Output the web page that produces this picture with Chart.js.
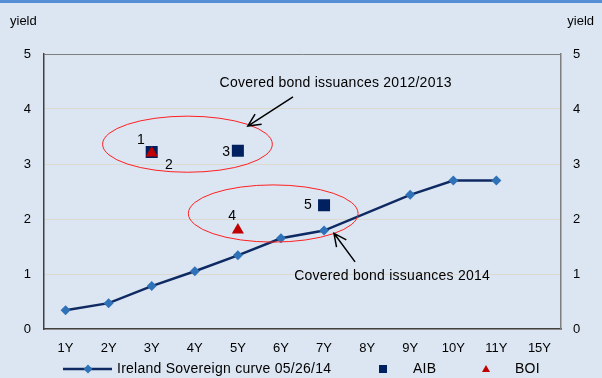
<!DOCTYPE html>
<html>
<head>
<meta charset="utf-8">
<script src="https://cdn.jsdelivr.net/npm/chart.js@4.4.1/dist/chart.umd.min.js"></script>
<style>
  html, body { margin: 0; padding: 0; background: #dce6f2; }
  canvas { display: block; }
</style>
</head>
<body>
<canvas id="myCanvas" width="602" height="378"></canvas>
<script>
// maturities on the x axis
let maturities = ["1Y", "2Y", "3Y", "4Y", "5Y", "6Y", "7Y", "8Y", "9Y", "10Y", "11Y", "15Y"];
// Ireland sovereign curve 05/26/14 (no point at 8Y and 15Y)
let sovereign = [0.34, 0.47, 0.78, 1.05, 1.34, 1.65, 1.79, null, 2.44, 2.70, 2.70, null];
// covered bond issuances
let aib = [null, null, 3.22, null, 3.24, null, 2.25, null, null, null, null, null];
let boi = [null, null, 3.20, null, 1.80, null, null, null, null, null, null, null];
let yTicks = [0, 1, 2, 3, 4, 5];

let font = "Liberation Sans, Arial, sans-serif";
let navy = "#0f2a63";
let diamondBlue = "#2f72b8";
let aibColor = "#002060";
let boiColor = "#c00000";

// ellipses, arrows and labels, placed in data units (category index, yield)
let ellipses = [
  { x: 2.83, y: 3.36, rx: 1.97, ry: 0.51 },
  { x: 4.82, y: 2.10, rx: 1.97, ry: 0.52 },
];
let arrows = [
  { from: [5.28, 4.22], to: [4.23, 3.69] },
  { from: [6.72, 1.22], to: [6.23, 1.74] },
];
let notes = [
  { text: "Covered bond issuances 2012/2013", x: 6.27, y: 4.47 },
  { text: "Covered bond issuances 2014", x: 7.58, y: 0.96 },
  { text: "1", x: 1.75, y: 3.44 },
  { text: "2", x: 2.4, y: 2.98 },
  { text: "3", x: 3.73, y: 3.22 },
  { text: "4", x: 3.87, y: 2.06 },
  { text: "5", x: 5.63, y: 2.25 },
];

let decor = {
  id: "decor",
  beforeDraw(chart) {
    let ctx = chart.ctx;
    ctx.save();
    ctx.fillStyle = "#dce6f2";
    ctx.fillRect(0, 0, chart.width, chart.height);
    ctx.fillStyle = "#558ed5";
    ctx.fillRect(0, 0, chart.width, 3);
    ctx.restore();
  },
  afterDatasetsDraw(chart) {
    let ctx = chart.ctx;
    let xs = chart.scales.x;
    let ys = chart.scales.y;
    let px = (v) => xs.getPixelForValue(v);
    let py = (v) => ys.getPixelForValue(v);
    let a = chart.chartArea;
    ctx.save();
    // top edge of the plot box
    ctx.strokeStyle = "#7f7f7f";
    ctx.lineWidth = 1;
    ctx.beginPath();
    ctx.moveTo(a.left, a.top + 0.5);
    ctx.lineTo(a.right, a.top + 0.5);
    ctx.stroke();

    ctx.strokeStyle = "#ff2020";
    ctx.lineWidth = 1;
    ellipses.forEach((e) => {
      let cx = px(e.x);
      let cy = py(e.y);
      let rx = px(e.x + e.rx) - cx;
      let ry = cy - py(e.y + e.ry);
      ctx.beginPath();
      ctx.ellipse(cx, cy, rx, ry, 0, 0, Math.PI * 2);
      ctx.stroke();
    });

    ctx.strokeStyle = "#000";
    ctx.lineWidth = 1.5;
    arrows.forEach((ar) => {
      let x1 = px(ar.from[0]), y1 = py(ar.from[1]);
      let x2 = px(ar.to[0]), y2 = py(ar.to[1]);
      let ang = Math.atan2(y2 - y1, x2 - x1);
      let head = 14;
      ctx.beginPath();
      ctx.moveTo(x1, y1);
      ctx.lineTo(x2, y2);
      ctx.moveTo(x2 - head * Math.cos(ang - 0.45), y2 - head * Math.sin(ang - 0.45));
      ctx.lineTo(x2, y2);
      ctx.lineTo(x2 - head * Math.cos(ang + 0.45), y2 - head * Math.sin(ang + 0.45));
      ctx.stroke();
    });

    ctx.fillStyle = "#000";
    ctx.font = "14px " + font;
    ctx.letterSpacing = "0.25px";
    ctx.textAlign = "center";
    ctx.textBaseline = "middle";
    notes.forEach((n) => {
      ctx.fillText(n.text, px(n.x), py(n.y));
    });
    ctx.restore();
  },
  afterDraw(chart) {
    let ctx = chart.ctx;
    ctx.save();
    ctx.font = "13px " + font;
    ctx.textBaseline = "middle";
    ctx.fillStyle = "#000";
    // y axis titles
    ctx.textAlign = "left";
    ctx.fillText("yield", 10, 21);
    ctx.textAlign = "right";
    ctx.fillText("yield", 594, 21);

    // legend
    ctx.font = "14px " + font;
    ctx.letterSpacing = "0.25px";
    let ly = 369;
    ctx.strokeStyle = navy;
    ctx.lineWidth = 2.5;
    ctx.beginPath();
    ctx.moveTo(63, ly);
    ctx.lineTo(112, ly);
    ctx.stroke();
    ctx.fillStyle = diamondBlue;
    ctx.beginPath();
    ctx.moveTo(88 - 4.5, ly);
    ctx.lineTo(88, ly - 4.5);
    ctx.lineTo(88 + 4.5, ly);
    ctx.lineTo(88, ly + 4.5);
    ctx.closePath();
    ctx.fill();
    ctx.fillStyle = "#000";
    ctx.textAlign = "left";
    ctx.fillText("Ireland Sovereign curve 05/26/14", 117, ly);

    ctx.fillStyle = aibColor;
    ctx.fillRect(379, ly - 4, 8, 8);
    ctx.fillStyle = "#000";
    ctx.fillText("AIB", 413, ly);

    ctx.fillStyle = boiColor;
    ctx.beginPath();
    ctx.moveTo(486, ly - 4);
    ctx.lineTo(490, ly + 3);
    ctx.lineTo(482, ly + 3);
    ctx.closePath();
    ctx.fill();
    ctx.fillStyle = "#000";
    ctx.fillText("BOI", 515, ly);
    ctx.restore();
  },
};

let yTickOpts = {
  color: "#000",
  font: { family: font, size: 13 },
  stepSize: 1,
  callback: (v) => (yTicks.includes(v) ? String(v) : ""),
};

let chart = new Chart(document.getElementById("myCanvas"), {
  type: "line",
  data: {
    labels: maturities,
    datasets: [
      {
        label: "AIB",
        data: aib,
        showLine: false,
        pointStyle: "rect",
        pointRadius: 8.5,
        pointBackgroundColor: aibColor,
        pointBorderWidth: 0,
        order: 2,
      },
      {
        label: "BOI",
        data: boi,
        showLine: false,
        pointStyle: "triangle",
        pointRadius: 7,
        pointBackgroundColor: boiColor,
        pointBorderWidth: 0,
        order: 1,
      },
      {
        label: "Ireland Sovereign curve 05/26/14",
        data: sovereign,
        spanGaps: true,
        borderColor: navy,
        borderWidth: 2.5,
        tension: 0,
        pointStyle: "rectRot",
        pointRadius: 5,
        pointBackgroundColor: diamondBlue,
        pointBorderColor: diamondBlue,
        pointBorderWidth: 0,
        order: 3,
      },
    ],
  },
  options: {
    responsive: false,
    animation: false,
    events: [],
    layout: { padding: { top: 54, bottom: 19, left: 0, right: 0 } },
    plugins: {
      legend: { display: false },
      tooltip: { enabled: false },
    },
    scales: {
      x: {
        offset: true,
        grid: { display: false },
        border: { color: "#404040", width: 1.5 },
        ticks: { color: "#000", font: { family: font, size: 13 }, padding: 4, maxRotation: 0 },
        afterFit: (scale) => { scale.height = 30; },
      },
      y: {
        position: "left",
        min: 0,
        max: 5,
        grid: { color: "#dcd9d0", drawTicks: false },
        border: { color: "#404040", width: 1.5 },
        ticks: Object.assign({ padding: 13 }, yTickOpts),
        afterFit: (scale) => { scale.width = 44; },
      },
      y2: {
        position: "right",
        min: 0,
        max: 5,
        grid: { display: false, drawTicks: false },
        border: { color: "#7f7f7f", width: 1.5 },
        ticks: Object.assign({ padding: 12 }, yTickOpts),
        afterFit: (scale) => { scale.width = 41; },
      },
    },
  },
  plugins: [decor],
});
</script>
</body>
</html>
